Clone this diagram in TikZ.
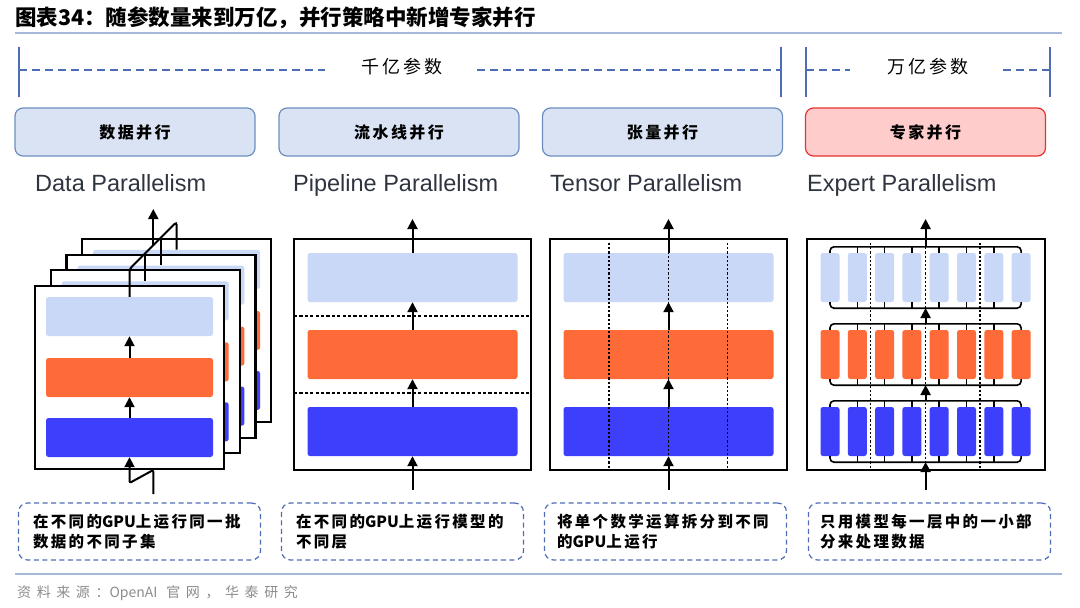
\documentclass[tikz,border=0pt]{standalone}
\usepackage{fontspec}
\usetikzlibrary{arrows.meta,positioning}
\newfontfamily\cjk{Noto Sans CJK SC}
\newfontfamily\cjkwide{Noto Sans CJK SC}[LetterSpace=15]
\newfontfamily\cjksrc{Noto Sans CJK SC}[LetterSpace=40]
\newfontfamily\labfont{Liberation Sans}
\definecolor{hdrfill}{HTML}{DAE3F3}
\definecolor{hdrline}{HTML}{6C8EBF}
\definecolor{redfill}{HTML}{FFCCCC}
\definecolor{redline}{HTML}{E3342F}
\definecolor{bluegrey}{HTML}{4E6DB5}
\definecolor{ruleblue}{HTML}{A5B8DA}
\definecolor{lightbar}{HTML}{C9D8F7}
\definecolor{orangebar}{HTML}{FF6A39}
\definecolor{bluebar}{HTML}{3D3FFA}
\definecolor{labgrey}{HTML}{2F3540}
\definecolor{srcgrey}{HTML}{8C8C8C}
\newcommand\hdrfont{\cjkwide\bfseries\fontsize{16}{16}\selectfont}
\newcommand\notefont{\cjkwide\bfseries\fontsize{15.5}{20}\selectfont}
\newcommand\lat[1]{{\cjk #1}}
\tikzset{
  hdr/.style={draw=hdrline, fill=hdrfill, line width=1.2pt, rounded corners=8pt, minimum width=240pt, minimum height=48pt, inner sep=0pt, font=\hdrfont},
  gpubox/.style={draw=black, fill=white, line width=2.2pt, inner sep=0pt},
  bar/.style={rounded corners=2.5pt, inner sep=0pt, minimum height=49pt},
  wire/.style={line width=2pt},
  flow/.style={line width=2pt, -{Triangle[width=10pt,length=10pt]}},
  cut/.style={line width=1.6pt, dash pattern=on 3.2pt off 2.2pt},
  dots/.style={line width=1.6pt, dash pattern=on 2.2pt off 2pt},
  bus/.style={line width=1.6pt},
  note/.style={draw=bluegrey, line width=1.2pt, dash pattern=on 5pt off 3.5pt, rounded corners=9pt, minimum width=242pt, minimum height=57pt, inner sep=0pt},
  notetxt/.style={anchor=west, align=left, inner sep=0pt, font=\notefont},
  lab/.style={anchor=base west, inner sep=0pt, text=labgrey, font=\labfont\fontsize{23.5}{24}\selectfont},
  brk/.style={draw=bluegrey, line width=1.5pt},
  brkdash/.style={draw=bluegrey, line width=2pt, dash pattern=on 8pt off 5pt},
}
\begin{document}
\begin{tikzpicture}[x=1pt,y=-1pt]
\useasboundingbox (0,0) rectangle (1080,608);

\node[anchor=west, inner sep=0pt, font=\cjk\bfseries\fontsize{21.5}{22}\selectfont] (title) at (15,18) {图表34：随参数量来到万亿，并行策略中新增专家并行};
\draw[ruleblue, line width=2.5pt] (15,33) -- (1062,33);

\node[font=\cjkwide\fontsize{18}{18}\selectfont] (qy) at (402,67) {千亿参数};
\node[font=\cjkwide\fontsize{18}{18}\selectfont] (wy) at (928,67) {万亿参数};
\coordinate (qyl) at (325,70);
\coordinate (qyr) at (477,70);
\coordinate (wyl) at (850,70);
\coordinate (wyr) at (1003,70);
\foreach \x in {19,781,806,1050}
    \draw[brk] (\x,47) -- (\x,97);
\draw[brkdash] (19,70) -- (qyl);
\draw[brkdash] (qyr) -- (781,70);
\draw[brkdash] (806,70) -- (wyl);
\draw[brkdash] (wyr) -- (1050,70);

\node[hdr] (h1) at (135,132) {数据并行};
\node[hdr] (h2) at (399,132) {流水线并行};
\node[hdr] (h3) at (662.5,132) {张量并行};
\node[hdr, draw=redline, fill=redfill] (h4) at (925.5,132) {专家并行};

\node[lab] (l1) at (35,191) {Data Parallelism};
\node[lab] (l2) at (293,191) {Pipeline Parallelism};
\node[lab] (l3) at (550,191) {Tensor Parallelism};
\node[lab] (l4) at (807,191) {Expert Parallelism};

\foreach \k in {3,2,1,0} {
    \pgfmathsetmacro\d{15.7*\k}
    \node[gpubox, minimum width=189pt, minimum height=183pt] (dp\k) at (129.5+\d,377.5-\d) {};
    \node[bar, fill=lightbar, minimum width=167pt, minimum height=39pt] (dpa\k) at (129.5+\d,316.5-\d) {};
    \node[bar, fill=orangebar, minimum width=167pt, minimum height=39pt] (dpb\k) at (129.5+\d,377.5-\d) {};
    \node[bar, fill=bluebar, minimum width=167pt, minimum height=39pt] (dpc\k) at (129.5+\d,437.5-\d) {};
    \coordinate (dj\k) at (129.5+\d,269-\d);
}
\draw[flow] (dpc0.north) -- (dpb0.south);
\draw[flow] (dpb0.north) -- (dpa0.south);
\draw[wire, rounded corners=3pt] (dpa0.north) -- (dj0) -- (dj3) -- (dpa3.north);
\draw[wire] (dpa1.north) -- (dj1);
\draw[wire] (dpa2.north) -- (dj2);
\coordinate (dout) at (153.3,245.2);
\coordinate (dtop) at (153.3,209);
\draw[flow] (dout) -- (dtop);
\coordinate (din) at (153.3,494);
\coordinate (dk1) at (153.3,470);
\coordinate (dk2) at (129.5,483);
\draw[flow, rounded corners=2pt] (din) -- (dk1) -- (dk2) -- (dpc0.south);

\foreach \cx/\nm in {412.5/pp,668.5/tp} {
    \node[gpubox, minimum width=237pt, minimum height=231pt] (\nm) at (\cx,354.5) {};
    \node[bar, fill=lightbar, minimum width=210pt] (\nm a) at (\cx,277.5) {};
    \node[bar, fill=orangebar, minimum width=210pt] (\nm b) at (\cx,354.5) {};
    \node[bar, fill=bluebar, minimum width=210pt] (\nm c) at (\cx,431.5) {};
    \coordinate (\nm top) at (\cx,219);
    \coordinate (\nm in) at (\cx,490);
}
\draw[cut] (294,316) -- (531,316);
\draw[cut] (294,393) -- (531,393);
\foreach \x in {609,668.5,727.5}
    \draw[dots] (\x,243) -- (\x,468);
\foreach \nm in {pp,tp} {
    \draw[flow] (\nm in) -- (\nm c.south);
    \draw[flow] (\nm c.north) -- (\nm b.south);
    \draw[flow] (\nm b.north) -- (\nm a.south);
    \draw[flow] (\nm a.north) -- (\nm top);
}

\node[gpubox, minimum width=238pt, minimum height=231pt] (ep) at (926,354.5) {};
\foreach \row/\col/\cy in {a/lightbar/277.5,b/orangebar/354.5,c/bluebar/431.5} {
    \foreach \i in {0,...,7}
        \node[bar, fill=\col, minimum width=19pt] (ep\row\i) at (830+27.3*\i,\cy) {};
    \draw[bus, rounded corners=4pt] (ep\row0.north) -- ++(0,-6) -| (ep\row7.north);
    \draw[bus, rounded corners=4pt] (ep\row0.south) -- ++(0,6) -| (ep\row7.south);
    \foreach \i in {1,...,6} {
        \draw[bus] (ep\row\i.north) -- ++(0,-6);
        \draw[bus] (ep\row\i.south) -- ++(0,6);
    }
    \coordinate (epup\row) at (925.6,\cy-30.5);
    \coordinate (epdn\row) at (925.6,\cy+30.5);
}
\foreach \x in {870.6,925.6,980.2}
    \draw[dots] (\x,243) -- (\x,468);
\coordinate (eptop) at (925.6,219);
\coordinate (epin) at (925.6,490);
\draw[flow] (epin) -- (epdnc);
\draw[flow] (epupc) -- (epdnb);
\draw[flow] (epupb) -- (epdna);
\draw[flow] (epupa) -- (eptop);

\node[note] (n1) at (139.5,531.5) {};
\node[note] (n2) at (402.5,531.5) {};
\node[note] (n3) at (665.5,531.5) {};
\node[note] (n4) at (929.5,531.5) {};
\node[notetxt] (t1) at ([xshift=15pt]n1.west) {在不同的\lat{GPU}上运行同一批\\数据的不同子集};
\node[notetxt] (t2) at ([xshift=15pt]n2.west) {在不同的\lat{GPU}上运行模型的\\不同层};
\node[notetxt] (t3) at ([xshift=13pt]n3.west) {将单个数学运算拆分到不同\\的\lat{GPU}上运行};
\node[notetxt] (t4) at ([xshift=12pt]n4.west) {只用模型每一层中的一小部\\分来处理数据};

\draw[ruleblue, line width=2.5pt] (15,574) -- (1062,574);
\node[anchor=west, inner sep=0pt, text=srcgrey, font=\cjksrc\fontsize{14}{14}\selectfont] (src) at (17,593) {资料来源：\lat{OpenAI} 官网，华泰研究};
\end{tikzpicture}
\end{document}
